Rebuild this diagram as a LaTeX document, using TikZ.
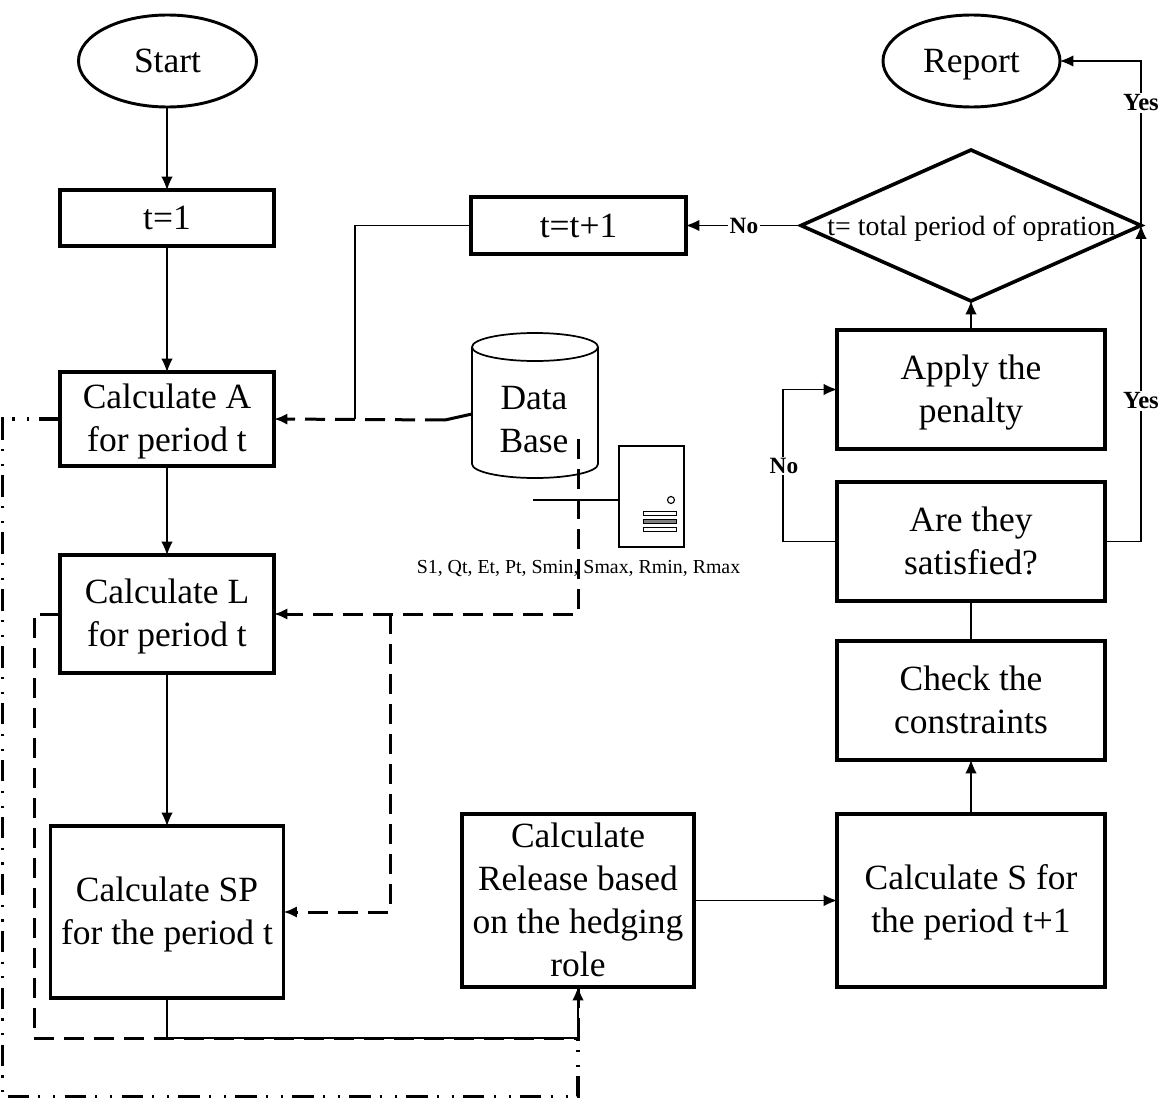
\documentclass[tikz,border=0pt]{standalone}
\usepackage{fontspec}
\setmainfont{Liberation Serif}
\usetikzlibrary{shapes.geometric,arrows.meta}
\newcommand{\tl}[2]{\raisebox{\dimexpr-0.25em-#1\relax}[0pt][0pt]{\begin{tabular}{@{}c@{}}#2\end{tabular}}}
\newcommand{\ol}[1]{\raisebox{-8.8pt}[0pt][0pt]{#1}}
\tikzset{
  x=0.75pt,y=-0.75pt,
  bx/.style 2 args={draw,line width=2.7pt,rectangle,inner sep=0pt,outer sep=0pt,align=center,
    minimum width=#1*0.75pt,minimum height=#2*0.75pt,font=\fontsize{26.6pt}{32.3pt}\selectfont},
  oval/.style 2 args={bx={#1}{#2},ellipse,line width=2.2pt},
  flow/.style={line width=0.8pt,-{Latex[length=10pt,width=8.5pt]}},
  plain/.style={line width=0.8pt},
  longdash/.style={line width=2.25pt,dash pattern=on 15pt off 7.5pt},
  longdasharrow/.style={longdash,-{Latex[length=10pt,width=8.5pt]}},
  dashdots/.style={line width=2.4pt,dash pattern=on 16pt off 7pt on 1.6pt off 9.5pt on 1.6pt off 7pt},
  yn/.style={font=\fontsize{17.5pt}{20pt}\selectfont\bfseries,fill=white,inner sep=1pt},
  yy/.style={font=\fontsize{18.5pt}{20pt}\selectfont\bfseries,fill=white,inner sep=1pt},
  big/.style={font=\fontsize{26.6pt}{32.3pt}\selectfont,align=center,inner sep=0pt},
  small/.style={font=\fontsize{14.9pt}{18pt}\selectfont,inner sep=0pt},
}
\begin{document}
\begin{tikzpicture}
\useasboundingbox (0,0) rectangle (1172,1099);
% nodes
\node[oval={178}{92}] (start) at (167.5,61) {\ol{Start}};
\node[bx={214}{56}] (t1) at (167,218) {t=1};
\node[bx={214}{94}] (calcA) at (167,419) {\tl{1.5pt}{Calculate A\\for period t}};
\node[bx={214}{118}] (calcL) at (167,614) {\tl{1.5pt}{Calculate L\\for period t}};
\node[bx={233}{172}] (calcSP) at (167,912) {\tl{1.5pt}{Calculate SP\\for the period t}};
\node[bx={215}{57}] (tnext) at (578.5,225.5) {t=t+1};
\node[oval={177}{92}] (report) at (971.5,61) {\ol{Report}};
\node[bx={340}{151},diamond] (dec) at (971,225.5) {};
\node[big,font=\fontsize{20.9pt}{24pt}\selectfont] (dectext) at (971.5,229) {t= total period of opration};
\node[bx={268}{119}] (penalty) at (971,389.5) {\tl{1.5pt}{Apply the\\penalty}};
\node[bx={268}{119}] (satisfied) at (971,541.5) {\tl{1.9pt}{Are they\\satisfied?}};
\node[bx={268}{119}] (check) at (971,700.5) {\tl{1.5pt}{Check the\\constraints}};
\node[bx={268}{173}] (calcS) at (971,900.5) {\tl{0.8pt}{Calculate S for\\the period t+1}};
\node[bx={232}{173}] (release) at (578,900.5) {\tl{1.5pt}{Calculate\\Release based\\on the hedging\\role}};
% database
\coordinate (dbtl) at (472,347);
\coordinate (dbtr) at (598,347);
\coordinate (dbbl) at (472,464);
\coordinate (dbbr) at (598,464);
\draw[line width=1.3pt] (dbtl) -- (dbbl) arc[start angle=180,end angle=360,x radius=63*0.75pt,y radius=14*0.75pt] -- (dbtr)
  arc[start angle=0,end angle=180,x radius=63*0.75pt,y radius=14*0.75pt] arc[start angle=180,end angle=360,x radius=63*0.75pt,y radius=14*0.75pt];
\node[big] (db) at (534,419.5) {Data\\Base};
% server
\node[draw,line width=0.85pt,rectangle,inner sep=0pt,outer sep=0pt,minimum width=65*0.75pt,minimum height=101*0.75pt] (server) at (651.5,496.5) {};
\node[draw,line width=0.85pt,circle,inner sep=0pt,minimum size=7*0.75pt] (led) at (671,500) {};
\node[draw,line width=0.6pt,rectangle,inner sep=0pt,minimum width=33*0.75pt,minimum height=3.5*0.75pt] (bar1) at (659.5,513.5) {};
\node[draw,line width=0.6pt,fill=gray,rectangle,inner sep=0pt,minimum width=33*0.75pt,minimum height=3.5*0.75pt] (bar2) at (659.5,521.5) {};
\node[draw,line width=0.6pt,rectangle,inner sep=0pt,minimum width=33*0.75pt,minimum height=3.5*0.75pt] (bar3) at (659.5,529.5) {};
\coordinate (srvstub) at (533,500);
\draw[plain] (server.west |- srvstub) -- (srvstub);
\node[small] (params) at (578.5,569) {S1, Qt, Et, Pt, Smin, Smax, Rmin, Rmax};
% solid flow
\draw[flow] (start.south -| t1.north) -- (t1.north);
\draw[flow] (t1) -- (calcA);
\draw[flow] (calcA) -- (calcL);
\draw[flow] (calcL.south) -- (calcSP.north -| calcL.south);
\draw[flow] (release) -- (calcS);
\draw[flow] (calcS.north) -- (check.south);
\draw[plain] (check.north) -- (satisfied.south);
\draw[flow] (penalty.north) -- (dec.south);
\draw[flow] (dec.west) -- (tnext.east);
\coordinate (noleft) at (783,541.5);
\draw[flow] (satisfied.west) -- (noleft) |- (penalty.west);
\coordinate (yesright) at (1141,541.5);
\draw[flow] (satisfied.east) -- (yesright) -- (dec.east);
\draw[flow] (dec.east) |- (report.east);
\coordinate (tback) at (355,225.5);
\draw[plain] (tnext.west) -- (tback) -- (tback |- calcA.east);
% dashed data lines
\coordinate (dbout) at (445,420);
\coordinate (dbleft) at (472,414);
\draw[line width=2.25pt] (dbleft) -- (dbout);
\draw[longdasharrow] (dbout) -- (calcA.east);
\coordinate (dbstart) at (578,439);
\coordinate (dbcorner) at (578,614);
\draw[longdasharrow] (dbstart) -- (dbcorner) -- (calcL.east);
\coordinate (lsplit) at (390,614);
\coordinate (lsplitb) at (390,912);
\draw[longdasharrow] (lsplit) -- (lsplitb) -- (calcSP.east);
% to release
\coordinate (lout) at (34,614);
\coordinate (lbot) at (34,1038);
\coordinate (relbot) at (578,1038);
\draw[longdash] (calcL.west) -- (lout) -- (lbot) -- (relbot);
\draw[longdash] (relbot) -- (release.south);
\draw[plain] (calcSP.south) -- (calcSP.south |- relbot) -- (relbot);
\draw[flow] (relbot) -- (release.south);
\coordinate (aout) at (2.5,419);
\coordinate (abot) at (2.5,1096.5);
\coordinate (rbot) at (578,1096.5);
\draw[dashdots] (calcA.west) -- (aout) -- (abot) -- (rbot) -- (relbot);
% labels
\node[yn] (lno1) at (744,225.5) {No};
\node[yn] (lno2) at (784,466) {No};
\node[yy] (lyes1) at (1141,103) {Yes};
\node[yy] (lyes2) at (1141,401) {Yes};
\end{tikzpicture}
\end{document}
